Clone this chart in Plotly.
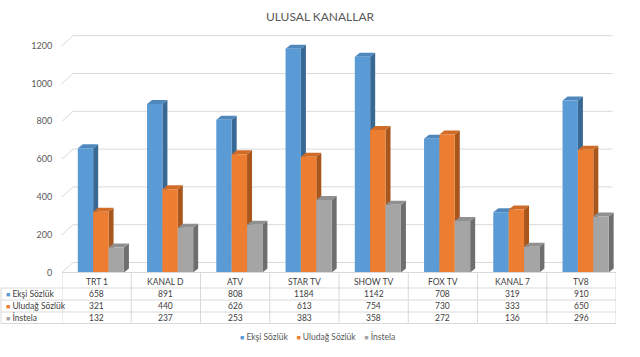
import plotly.graph_objects as go

# ---- data ----
channels = ["TRT 1", "KANAL D", "ATV", "STAR TV", "SHOW TV", "FOX TV", "KANAL 7", "TV8"]
eksi = [658, 891, 808, 1184, 1142, 708, 319, 910]
uludag = [321, 440, 626, 613, 754, 730, 333, 650]
instela = [132, 237, 253, 383, 358, 272, 136, 296]
series_names = ["Ekşi Sözlük", "Uludağ Sözlük", "İnstela"]
y_ticks = [0, 200, 400, 600, 800, 1000, 1200]

# ---- styling ----
front = ["#5B9BD5", "#ED7D31", "#A5A5A5"]
top_c = ["#4F88BC", "#D06C28", "#909090"]
side_c = ["#386894", "#A8561C", "#6E6E6E"]
text_col = "#595959"
tbl_text = "#404040"
grid_col = "#D9D9D9"
FONT = "Lato"

W, H = 640, 357
L, R, T, B = 62, 24, 30, 81
zero_px = 272.5
px_per_cat = (W - L - R) / 8.0
px_per_unit = 0.189
y_lo = -(H - B - zero_px) / px_per_unit
y_hi = (zero_px - T) / px_per_unit

bar_w = 0.222
offsets = [-0.272, -0.050, 0.172]
dx = 5 / px_per_cat
dy = 4 / px_per_unit
g_dx = 11 / px_per_cat
g_dy = 10 / px_per_unit

xs = list(range(len(channels)))
all_series = [eksi, uludag, instela]


def py(p):
    """pixel row -> paper fraction"""
    return 1 - p / H


fig = go.Figure()
shapes = []

# back-wall gridlines
for v in y_ticks:
    shapes.append(dict(type="path", layer="below",
                       path=f"M {-0.5},{v} L {-0.5 + g_dx},{v + g_dy} L 7.45,{v + g_dy}",
                       xref="x", yref="y", line=dict(color=grid_col, width=1)))

for si, vals in enumerate(all_series):
    fig.add_trace(go.Bar(x=xs, y=vals, width=bar_w, offset=offsets[si],
                         marker=dict(color=front[si], line=dict(width=0)),
                         name=series_names[si], showlegend=False))
    for xi, v in zip(xs, vals):
        xl = xi + offsets[si]
        xr = xl + bar_w
        shapes.append(dict(type="path", layer="below", xref="x", yref="y",
                           path=f"M {xr},0 L {xr + dx},{dy} L {xr + dx},{v + dy} L {xr},{v} Z",
                           fillcolor=side_c[si], line=dict(width=0)))
        shapes.append(dict(type="path", layer="below", xref="x", yref="y",
                           path=f"M {xl},{v} L {xl + dx},{v + dy} L {xr + dx},{v + dy} L {xr},{v} Z",
                           fillcolor=top_c[si], line=dict(width=0)))

# ---- data table (text + rules) ----
tbl_top = zero_px
row_lines = [288, 300, 312, 323.5]
row_centers = [293.8, 305.8, 317.6]
header_center = 281.5
tbl_right = W - R

# floor front edge / table top
shapes.append(dict(type="line", xref="paper", yref="paper", x0=L / W, x1=tbl_right / W,
                   y0=py(tbl_top), y1=py(tbl_top), line=dict(color=grid_col, width=1)))
for yl in row_lines:
    shapes.append(dict(type="line", xref="paper", yref="paper", x0=1 / W, x1=tbl_right / W,
                       y0=py(yl), y1=py(yl), line=dict(color=grid_col, width=1)))
shapes.append(dict(type="line", xref="paper", yref="paper", x0=1 / W, x1=1 / W,
                   y0=py(row_lines[0]), y1=py(row_lines[-1]), line=dict(color=grid_col, width=1)))
for k in range(len(channels) + 1):
    shapes.append(dict(type="line", xref="x", yref="paper", x0=k - 0.5, x1=k - 0.5,
                       y0=py(tbl_top), y1=py(row_lines[-1]), line=dict(color=grid_col, width=1)))

annotations = []
tfont = dict(family=FONT, size=8.5, color=tbl_text)
for ci, ch in enumerate(channels):
    annotations.append(dict(text=ch, x=ci, y=py(header_center), xref="x", yref="paper",
                            xanchor="center", yanchor="middle", showarrow=False, font=tfont))
    for si in range(3):
        annotations.append(dict(text=str(all_series[si][ci]), x=ci, y=py(row_centers[si]),
                                xref="x", yref="paper", xanchor="center", yanchor="middle",
                                showarrow=False, font=tfont))
for si, n in enumerate(series_names):
    annotations.append(dict(text=f"<span style='color:{front[si]};font-size:7px'>■</span> {n}",
                            x=4 / W, y=py(row_centers[si]), xref="paper", yref="paper",
                            xanchor="left", yanchor="middle", showarrow=False, font=tfont))

legend_text = "    ".join(
    f"<span style='color:{front[i]};font-size:7px'>■</span> {n}" for i, n in enumerate(series_names))
annotations.append(dict(text=legend_text, x=317 / W, y=py(336), xref="paper", yref="paper",
                        xanchor="center", yanchor="middle", showarrow=False,
                        font=dict(family=FONT, size=8.5, color=text_col)))

fig.update_layout(
    width=W, height=H,
    margin=dict(l=0, r=0, t=0, b=0, autoexpand=False),
    paper_bgcolor="white", plot_bgcolor="white",
    barmode="overlay",
    showlegend=False,
    shapes=shapes,
    title=dict(text="ULUSAL KANALLAR", x=0.5, xanchor="center", y=py(17), yanchor="middle",
               yref="container", font=dict(family=FONT, size=12, color=text_col)),
    xaxis=dict(domain=[L / W, (W - R) / W], range=[-0.5, 7.5], showgrid=False, zeroline=False,
               showticklabels=False, showline=False, ticks="", automargin=False),
    yaxis=dict(domain=[B / H, 1 - T / H], range=[y_lo, y_hi], tickvals=y_ticks, showgrid=False,
               zeroline=False, showline=False, ticks="outside", ticklen=7,
               tickcolor="rgba(0,0,0,0)", automargin=False,
               tickfont=dict(family=FONT, size=9, color=text_col)),
    annotations=annotations,
    font=dict(family=FONT),
)

fig.write_html("out.html", config={"displayModeBar": False},
               post_script="document.body.style.margin='0px';")
